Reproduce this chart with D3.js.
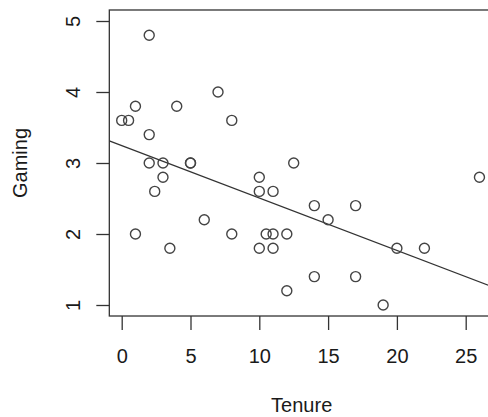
<!DOCTYPE html>
<html>
<head>
<meta charset="utf-8">
<script src="https://cdn.jsdelivr.net/npm/d3@7"></script>
<style>
  body { margin: 0; background: #fff; }
  text { font-family: "Liberation Sans", Arial, sans-serif; fill: #1a1a1a; }
</style>
</head>
<body>
<svg id="chart"></svg>
<script>
// Data
const tenure = [2, 1, 4, 0, 0.5, 2, 2, 3, 5, 5, 7, 8, 12.5, 3, 2.4, 6, 1, 3.5,
  10, 10, 11, 8, 10.5, 11, 12, 10, 11, 12, 14, 17, 15, 20, 14, 17, 19, 26, 22];
const gaming = [4.8, 3.8, 3.8, 3.6, 3.6, 3.4, 3, 3, 3, 3, 4, 3.6, 3, 2.8, 2.6, 2.2, 2, 1.8,
  2.8, 2.6, 2.6, 2, 2, 2, 2, 1.8, 1.8, 1.2, 2.4, 2.4, 2.2, 1.8, 1.4, 1.4, 1, 2.8, 1.8];
const xTicks = [0, 5, 10, 15, 20, 25];
const yTicks = [1, 2, 3, 4, 5];
// fitted line
const intercept = 3.244;
const slope = -0.0738;

// Chart Dimensions
const width = 488;
const height = 417;
const fontSize = "20px";

const svg = d3.select("#chart").attr("width", width).attr("height", height);

// Scales
const xScale = d3.scaleLinear().domain([0, 25]).range([121.7, 465.7]);
const yScale = d3.scaleLinear().domain([1, 5]).range([305, 21]);

const xLim = [-0.9, 27.04];
const yLim = [0.845, 5.155];

const boxLeft = xScale(xLim[0]);
const boxRight = xScale(xLim[1]);
const boxTop = yScale(yLim[1]);
const boxBottom = yScale(yLim[0]);

// clip for plot region
svg.append("clipPath").attr("id", "plot-clip")
  .append("rect")
  .attr("x", boxLeft).attr("y", boxTop)
  .attr("width", boxRight - boxLeft).attr("height", boxBottom - boxTop);

// Axes
const xAxis = d3.axisBottom(xScale).tickValues(xTicks).tickFormat(d3.format("d")).tickSize(14);
const yAxis = d3.axisLeft(yScale).tickValues(yTicks).tickFormat(d3.format("d")).tickSize(13);

const gx = svg.append("g")
  .attr("transform", `translate(0, ${boxBottom})`)
  .call(xAxis);
gx.select(".domain").remove();
gx.selectAll("line").attr("stroke", "#333").attr("stroke-width", 1.3);
gx.selectAll("text")
  .attr("y", 47).attr("dy", null)
  .style("font-size", fontSize)
  .style("font-family", "'Liberation Sans', Arial, sans-serif")
  .attr("fill", "#1a1a1a");

const gy = svg.append("g")
  .attr("transform", `translate(${boxLeft}, 0)`)
  .call(yAxis);
gy.select(".domain").remove();
gy.selectAll("line").attr("stroke", "#333").attr("stroke-width", 1.3);
gy.selectAll("text")
  .attr("x", null).attr("dy", null)
  .attr("text-anchor", "middle")
  .attr("transform", `translate(${80 - boxLeft}, 0) rotate(-90)`)
  .style("font-size", fontSize)
  .style("font-family", "'Liberation Sans', Arial, sans-serif")
  .attr("fill", "#1a1a1a");

// Box
svg.append("rect")
  .attr("x", boxLeft).attr("y", boxTop)
  .attr("width", boxRight - boxLeft).attr("height", boxBottom - boxTop)
  .attr("fill", "none").attr("stroke", "#333").attr("stroke-width", 1.3);

// Regression line
svg.append("line")
  .attr("clip-path", "url(#plot-clip)")
  .attr("x1", xScale(xLim[0])).attr("y1", yScale(intercept + slope * xLim[0]))
  .attr("x2", xScale(xLim[1])).attr("y2", yScale(intercept + slope * xLim[1]))
  .attr("stroke", "#333").attr("stroke-width", 1.3);

// Points
svg.selectAll(".pt")
  .data(d3.range(tenure.length))
  .enter()
  .append("circle")
  .attr("class", "pt")
  .attr("cx", (i) => xScale(tenure[i]))
  .attr("cy", (i) => yScale(gaming[i]))
  .attr("r", 5)
  .attr("fill", "none")
  .attr("stroke", "#444")
  .attr("stroke-width", 1.4);

// Axis titles
svg.append("text")
  .attr("x", 301.7)
  .attr("y", 412)
  .attr("text-anchor", "middle")
  .style("font-size", fontSize)
  .text("Tenure");

svg.append("text")
  .attr("transform", `translate(27, ${(boxTop + boxBottom) / 2}) rotate(-90)`)
  .attr("text-anchor", "middle")
  .style("font-size", fontSize)
  .text("Gaming");
</script>
</body>
</html>
